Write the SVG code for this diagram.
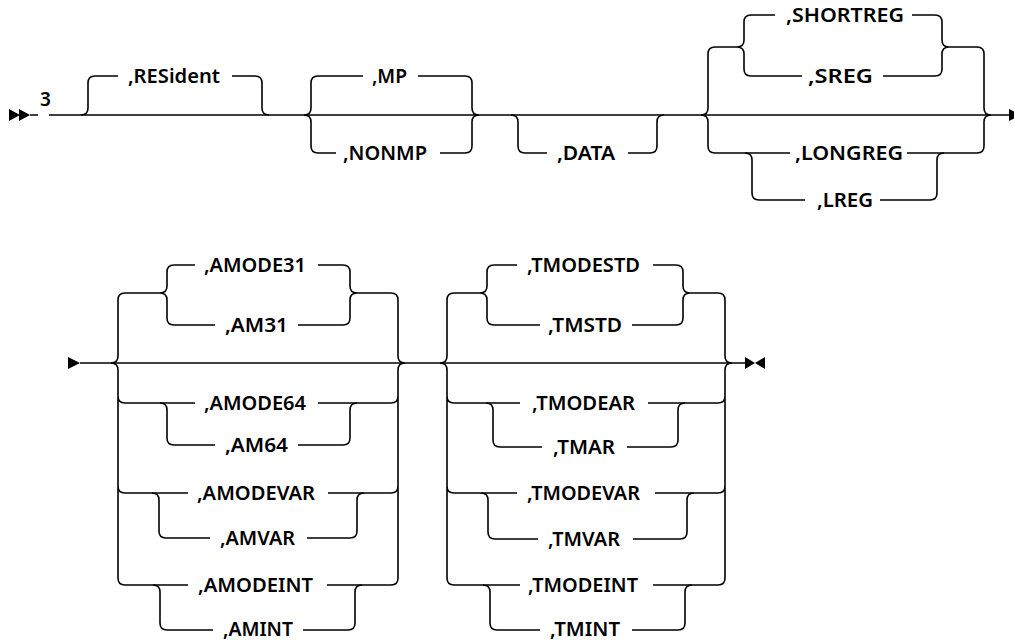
<svg xmlns="http://www.w3.org/2000/svg" width="1014" height="640" viewBox="0 0 1014 640">
  <style>
    .ln { fill: none; stroke: #000; stroke-width: 1.6; stroke-linecap: butt; }
    .mk { fill: #000; stroke: none; }
    .kw { font-family: "Noto Sans", "Liberation Sans", sans-serif; font-size: 19px; font-weight: 600; fill: #000; }
  </style>
  <rect width="1014" height="640" fill="#fff"/>

  <!-- rails and branches -->
  <g id="connectors">
    <!-- row 1 -->
    <path class="ln" d="M30 115 L38 115 M49 115 L1010 115"/>
    <!-- ,RESident -->
    <path class="ln" d="M81 115 Q88 115 88 108 L88 83 Q88 76 95 76 L118 76 M232 76 L255 76 Q262 76 262 83 L262 108 Q262 115 269 115"/>
    <!-- ,MP / ,NONMP -->
    <path class="ln" d="M363 76 L318 76 Q311 76 311 83 L311 108 Q311 115 304 115 Q311 115 311 122 L311 146 Q311 153 318 153 L336 153"/>
    <path class="ln" d="M418 76 L465 76 Q472 76 472 83 L472 108 Q472 115 479 115 Q472 115 472 122 L472 146 Q472 153 465 153 L440 153"/>
    <!-- ,DATA -->
    <path class="ln" d="M511 115 Q518 115 518 122 L518 146 Q518 153 525 153 L547 153 M628 153 L650 153 Q657 153 657 146 L657 122 Q657 115 664 115"/>
    <!-- register group -->
    <path class="ln" d="M737 47 L715 47 Q708 47 708 54 L708 108 Q708 115 701 115 Q708 115 708 122 L708 146 Q708 153 715 153 L790 153"/>
    <path class="ln" d="M949 47 L977 47 Q984 47 984 54 L984 108 Q984 115 991 115 Q984 115 984 122 L984 146 Q984 153 977 153 L907 153"/>
    <path class="ln" d="M775 15 L751 15 Q744 15 744 22 L744 40 Q744 47 737 47 Q744 47 744 54 L744 69 Q744 76 751 76 L802 76"/>
    <path class="ln" d="M912 15 L935 15 Q942 15 942 22 L942 40 Q942 47 949 47 Q942 47 942 54 L942 69 Q942 76 935 76 L883 76"/>
    <path class="ln" d="M745 153 Q752 153 752 160 L752 193 Q752 200 759 200 L805 200 M880 200 L930 200 Q937 200 937 193 L937 160 Q937 153 944 153"/>

    <!-- row 2 -->
    <path class="ln" d="M80 363 L745 363"/>
    <!-- addressing mode group -->
    <path class="ln" d="M160 293 L125 293 Q118 293 118 300 L118 356 Q118 363 111 363 Q118 363 118 370 L118 578 Q118 585 125 585 L188 585 M118 396 Q118 403 125 403 L195 403 M118 486 Q118 493 125 493 L188 493"/>
    <path class="ln" d="M357 293 L391 293 Q398 293 398 300 L398 356 Q398 363 405 363 Q398 363 398 370 L398 578 Q398 585 391 585 L327 585 M398 396 Q398 403 391 403 L318 403 M398 486 Q398 493 391 493 L328 493"/>
    <path class="ln" d="M195 265 L174 265 Q167 265 167 272 L167 286 Q167 293 160 293 Q167 293 167 300 L167 318 Q167 325 174 325 L215 325"/>
    <path class="ln" d="M318 265 L343 265 Q350 265 350 272 L350 286 Q350 293 357 293 Q350 293 350 300 L350 318 Q350 325 343 325 L298 325"/>
    <path class="ln" d="M160 403 Q167 403 167 410 L167 438 Q167 445 174 445 L215 445 M298 445 L343 445 Q350 445 350 438 L350 410 Q350 403 357 403"/>
    <path class="ln" d="M152 493 Q159 493 159 500 L159 531 Q159 538 166 538 L210 538 M307 538 L350 538 Q357 538 357 531 L357 500 Q357 493 364 493"/>
    <path class="ln" d="M153 585 Q160 585 160 592 L160 623 Q160 630 167 630 L213 630 M303 630 L348 630 Q355 630 355 623 L355 592 Q355 585 362 585"/>
    <!-- translation mode group -->
    <path class="ln" d="M480 293 L454 293 Q447 293 447 300 L447 356 Q447 363 440 363 Q447 363 447 370 L447 578 Q447 585 454 585 L520 585 M447 396 Q447 403 454 403 L520 403 M447 486 Q447 493 454 493 L517 493"/>
    <path class="ln" d="M690 293 L718 293 Q725 293 725 300 L725 356 Q725 363 732 363 Q725 363 725 370 L725 578 Q725 585 718 585 L653 585 M725 396 Q725 403 718 403 L648 403 M725 486 Q725 493 718 493 L655 493"/>
    <path class="ln" d="M517 265 L494 265 Q487 265 487 272 L487 286 Q487 293 480 293 Q487 293 487 300 L487 318 Q487 325 494 325 L540 325"/>
    <path class="ln" d="M653 265 L676 265 Q683 265 683 272 L683 286 Q683 293 690 293 Q683 293 683 300 L683 318 Q683 325 676 325 L632 325"/>
    <path class="ln" d="M486 403 Q493 403 493 410 L493 440 Q493 447 500 447 L542 447 M627 447 L671 447 Q678 447 678 440 L678 410 Q678 403 685 403"/>
    <path class="ln" d="M481 493 Q488 493 488 500 L488 532 Q488 539 495 539 L538 539 M633 539 L680 539 Q687 539 687 532 L687 500 Q687 493 694 493"/>
    <path class="ln" d="M483 585 Q490 585 490 592 L490 623 Q490 630 497 630 L540 630 M632 630 L678 630 Q685 630 685 623 L685 592 Q685 585 692 585"/>
  </g>

  <!-- start, continuation and end markers -->
  <g id="start">
    <polygon class="mk" points="9,109 20,115 9,121"/>
    <polygon class="mk" points="19,109 30,115 19,121"/>
    <text class="kw" x="40" y="106" font-size="17">3</text>
  </g>
  <g id="continue-out"><polygon class="mk" points="1009,109 1021,115 1009,121"/></g>
  <g id="continue-in"><polygon class="mk" points="68,357 80,363 68,369"/></g>
  <g id="end">
    <polygon class="mk" points="745,357 755,363 745,369"/>
    <polygon class="mk" points="765,357 755,363 765,369"/>
  </g>

  <!-- keywords -->
  <g id="resident"><text class="kw" x="128" y="83" textLength="92" lengthAdjust="spacingAndGlyphs">,RESident</text></g>
  <g id="mp"><text class="kw" x="372" y="83" textLength="35" lengthAdjust="spacingAndGlyphs">,MP</text></g>
  <g id="nonmp"><text class="kw" x="343" y="160" textLength="84" lengthAdjust="spacingAndGlyphs">,NONMP</text></g>
  <g id="data"><text class="kw" x="557" y="160" textLength="58" lengthAdjust="spacingAndGlyphs">,DATA</text></g>
  <g id="shortreg"><text class="kw" x="786" y="22" textLength="118" lengthAdjust="spacingAndGlyphs">,SHORTREG</text></g>
  <g id="sreg"><text class="kw" x="808" y="83" textLength="65" lengthAdjust="spacingAndGlyphs">,SREG</text></g>
  <g id="longreg"><text class="kw" x="795" y="160" textLength="108" lengthAdjust="spacingAndGlyphs">,LONGREG</text></g>
  <g id="lreg"><text class="kw" x="817" y="207" textLength="56" lengthAdjust="spacingAndGlyphs">,LREG</text></g>

  <g id="amode31"><text class="kw" x="204" y="272" textLength="102" lengthAdjust="spacingAndGlyphs">,AMODE31</text></g>
  <g id="am31"><text class="kw" x="225" y="332" textLength="63" lengthAdjust="spacingAndGlyphs">,AM31</text></g>
  <g id="amode64"><text class="kw" x="204" y="410" textLength="102" lengthAdjust="spacingAndGlyphs">,AMODE64</text></g>
  <g id="am64"><text class="kw" x="225" y="452" textLength="63" lengthAdjust="spacingAndGlyphs">,AM64</text></g>
  <g id="amodevar"><text class="kw" x="197" y="500" textLength="118" lengthAdjust="spacingAndGlyphs">,AMODEVAR</text></g>
  <g id="amvar"><text class="kw" x="220" y="545" textLength="75" lengthAdjust="spacingAndGlyphs">,AMVAR</text></g>
  <g id="amodeint"><text class="kw" x="198" y="592" textLength="115" lengthAdjust="spacingAndGlyphs">,AMODEINT</text></g>
  <g id="amint"><text class="kw" x="223" y="636" textLength="70" lengthAdjust="spacingAndGlyphs">,AMINT</text></g>

  <g id="tmodestd"><text class="kw" x="527" y="272" textLength="113" lengthAdjust="spacingAndGlyphs">,TMODESTD</text></g>
  <g id="tmstd"><text class="kw" x="548" y="332" textLength="74" lengthAdjust="spacingAndGlyphs">,TMSTD</text></g>
  <g id="tmodear"><text class="kw" x="532" y="410" textLength="103" lengthAdjust="spacingAndGlyphs">,TMODEAR</text></g>
  <g id="tmar"><text class="kw" x="553" y="454" textLength="62" lengthAdjust="spacingAndGlyphs">,TMAR</text></g>
  <g id="tmodevar"><text class="kw" x="527" y="500" textLength="113" lengthAdjust="spacingAndGlyphs">,TMODEVAR</text></g>
  <g id="tmvar"><text class="kw" x="548" y="546" textLength="72" lengthAdjust="spacingAndGlyphs">,TMVAR</text></g>
  <g id="tmodeint"><text class="kw" x="528" y="592" textLength="110" lengthAdjust="spacingAndGlyphs">,TMODEINT</text></g>
  <g id="tmint"><text class="kw" x="550" y="636" textLength="70" lengthAdjust="spacingAndGlyphs">,TMINT</text></g>
</svg>
